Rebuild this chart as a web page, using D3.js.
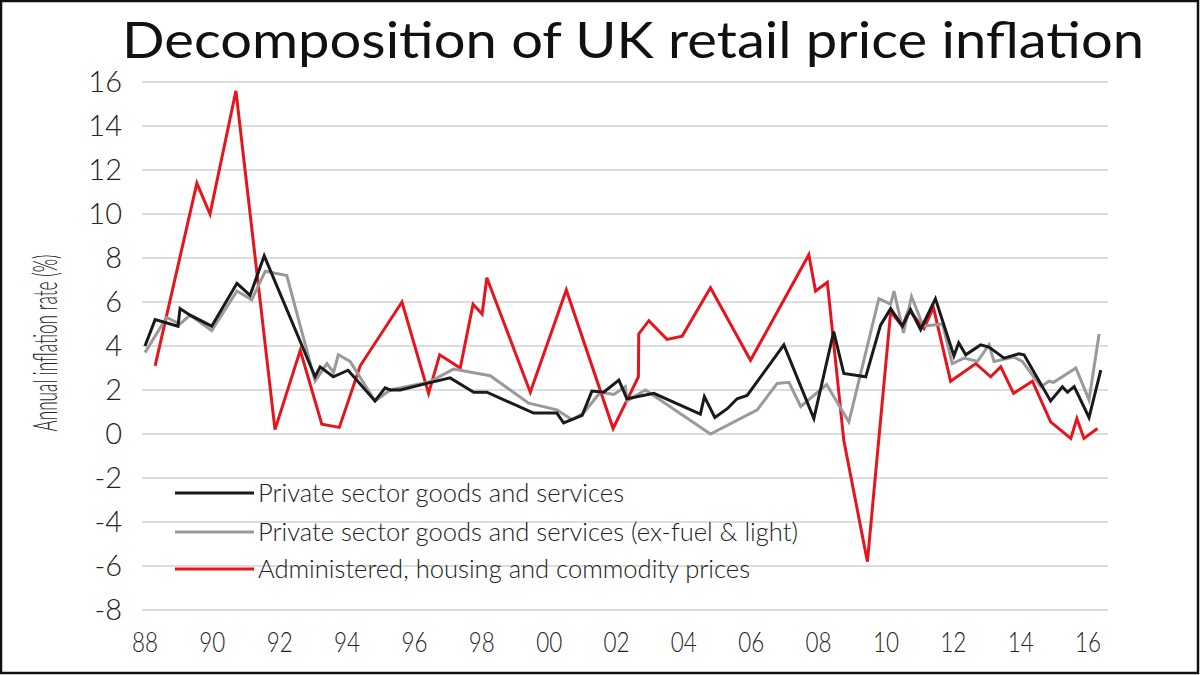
<!DOCTYPE html>
<html><head><meta charset="utf-8">
<script src="https://cdn.jsdelivr.net/npm/d3@7"></script>
<style>body{margin:0;background:#fff} svg{display:block}</style>
</head><body><svg id="c" width="1200" height="675"></svg>
<script>
const title = "Decomposition of UK retail price inflation";
const yTitle = "Annual inflation rate (%)";
const yTicks = [16,14,12,10,8,6,4,2,0,-2,-4,-6,-8];
const xTickYears = [1988,1990,1992,1994,1996,1998,2000,2002,2004,2006,2008,2010,2012,2014,2016];
const xTickLabels = ["88","90","92","94","96","98","00","02","04","06","08","10","12","14","16"];
const seriesNames = ["Private sector goods and services","Private sector goods and services (ex-fuel & light)","Administered, housing and commodity prices"];
const seriesColors = ["#1a1a1a","#9a9a9a","#e8141c"];

const privateSector = [[1988.0,4.0],[1988.3,5.2],[1988.98,4.9],[1989.04,5.7],[1989.34,5.4],[1989.98,4.9],[1990.73,6.85],[1991.12,6.3],[1991.54,8.1],[1993.05,2.6],[1993.2,3.05],[1993.59,2.6],[1994.03,2.9],[1994.83,1.5],[1995.13,2.1],[1995.28,2.0],[1995.58,2.0],[1996.37,2.3],[1997.06,2.55],[1997.76,1.9],[1998.15,1.9],[1999.54,0.95],[2000.23,0.95],[2000.43,0.5],[2000.98,0.85],[2001.27,1.95],[2001.62,1.9],[2002.07,2.45],[2002.31,1.6],[2003.11,1.85],[2004.49,0.9],[2004.61,1.7],[2004.92,0.75],[2005.29,1.15],[2005.58,1.6],[2005.88,1.75],[2006.97,4.05],[2007.86,0.7],[2008.45,4.65],[2008.75,2.75],[2009.4,2.6],[2009.84,4.95],[2010.14,5.7],[2010.49,4.9],[2010.73,5.65],[2011.03,4.75],[2011.47,6.15],[2012.02,3.55],[2012.16,4.15],[2012.37,3.6],[2012.81,4.05],[2013.06,3.95],[2013.51,3.45],[2013.95,3.65],[2014.1,3.6],[2014.89,1.5],[2015.24,2.15],[2015.39,1.9],[2015.59,2.15],[2016.03,0.75],[2016.38,2.9]];

const privateExFuel = [[1988.0,3.7],[1988.64,5.3],[1989.04,5.0],[1989.34,5.4],[1989.98,4.7],[1990.73,6.5],[1991.17,6.1],[1991.57,7.4],[1992.21,7.2],[1993.05,2.4],[1993.4,3.2],[1993.6,2.8],[1993.74,3.6],[1994.09,3.3],[1994.83,1.5],[1995.28,2.0],[1996.42,2.35],[1997.16,2.95],[1998.25,2.65],[1999.39,1.4],[2000.23,1.1],[2000.68,0.65],[2001.02,0.95],[2001.52,1.9],[2001.92,1.8],[2002.26,2.15],[2002.31,1.5],[2002.86,2.0],[2004.79,0.0],[2006.18,1.1],[2006.77,2.3],[2007.12,2.35],[2007.47,1.25],[2008.24,2.25],[2008.9,0.55],[2009.79,6.15],[2010.14,5.9],[2010.24,6.5],[2010.52,4.6],[2010.76,6.25],[2011.11,4.9],[2011.68,5.0],[2011.97,3.2],[2012.32,3.45],[2012.72,3.3],[2013.06,4.05],[2013.21,3.3],[2013.8,3.5],[2014.05,3.3],[2014.6,2.15],[2014.84,2.4],[2014.98,2.35],[2015.64,3.0],[2016.03,1.55],[2016.33,4.55]];

const administered = [[1988.3,3.1],[1989.54,11.4],[1989.93,10.0],[1990.7,15.6],[1991.86,0.2],[1992.61,3.8],[1993.25,0.45],[1993.77,0.3],[1994.39,3.1],[1995.63,6.0],[1996.42,1.85],[1996.75,3.6],[1997.36,3.0],[1997.74,5.9],[1998.01,5.45],[1998.15,7.1],[1999.44,1.9],[2000.51,6.55],[2001.9,0.25],[2002.65,2.6],[2002.66,4.55],[2002.96,5.15],[2003.5,4.3],[2003.95,4.45],[2004.79,6.65],[2005.98,3.35],[2007.71,8.15],[2007.91,6.5],[2008.26,6.9],[2008.75,-0.3],[2009.45,-5.8],[2010.14,5.55],[2010.49,4.9],[2010.68,5.65],[2011.13,4.8],[2011.41,5.75],[2011.92,2.4],[2012.67,3.2],[2013.11,2.6],[2013.41,3.05],[2013.79,1.85],[2014.35,2.4],[2014.89,0.55],[2015.49,-0.2],[2015.67,0.7],[2015.88,-0.2],[2016.28,0.25]];

const svg = d3.select("#c");
const font = "Lato, 'Open Sans', sans-serif";
const x = d3.scaleLinear().domain([1988, 2016]).range([145, 1088]);
const y = d3.scaleLinear().domain([-8, 16]).range([610, 82]);

svg.append("rect").attr("x",0).attr("y",0).attr("width",1200).attr("height",675).attr("fill","#fff");

// gridlines
svg.append("g").selectAll("line").data(yTicks).join("line")
  .attr("x1",142).attr("x2",1108)
  .attr("y1",d=>y(d)).attr("y2",d=>y(d))
  .attr("stroke","#d2d2d2").attr("stroke-width",1.6);

// y tick labels
svg.append("g").selectAll("text").data(yTicks).join("text")
  .attr("x",122).attr("y",d=>y(d)+10)
  .attr("text-anchor","end")
  .attr("font-family",font).attr("font-weight",300).attr("font-size",29)
  .attr("fill","#222")
  .text(d=>String(d));

// x tick labels
svg.append("g").selectAll("text").data(xTickYears).join("text")
  .attr("x",d=>x(d)).attr("y",652)
  .attr("text-anchor","middle")
  .attr("font-family",font).attr("font-weight",300).attr("font-size",28)
  .attr("fill","#222")
  .attr("textLength",26).attr("lengthAdjust","spacingAndGlyphs")
  .text((d,i)=>xTickLabels[i]);

// y title
svg.append("text")
  .attr("transform","translate(57,343) rotate(-90)")
  .attr("text-anchor","middle")
  .attr("font-family",font).attr("font-weight",300).attr("font-size",33)
  .attr("fill","#222")
  .attr("textLength",177).attr("lengthAdjust","spacingAndGlyphs")
  .text(yTitle);

// title
svg.append("text")
  .attr("x",633).attr("y",58)
  .attr("text-anchor","middle")
  .attr("font-family",font).attr("font-weight",400).attr("font-size",50)
  .attr("fill","#111")
  .attr("textLength",1022).attr("lengthAdjust","spacingAndGlyphs")
  .text(title);

// lines
const line = d3.line().x(d=>x(d[0])).y(d=>y(d[1]));
const allSeries = [administered, privateExFuel, privateSector];
const allColors = [seriesColors[2], seriesColors[1], seriesColors[0]];
svg.append("g").selectAll("path").data(allSeries).join("path")
  .attr("d",line).attr("fill","none")
  .attr("stroke",(d,i)=>allColors[i]).attr("stroke-width",3)
  .attr("stroke-linejoin","miter");

// legend
const legY = [493, 532, 569];
const legLen = [366, 540, 492];
const leg = svg.append("g");
seriesNames.forEach((n,i)=>{
  leg.append("line").attr("x1",175).attr("x2",254).attr("y1",legY[i]).attr("y2",legY[i])
    .attr("stroke",seriesColors[i]).attr("stroke-width",3);
  leg.append("text").attr("x",258).attr("y",legY[i]+9)
    .attr("font-family",font).attr("font-weight",300).attr("font-size",25)
    .attr("fill","#222")
    .attr("textLength",legLen[i]).attr("lengthAdjust","spacingAndGlyphs")
    .text(n);
});

// border
svg.append("rect").attr("x",1).attr("y",1).attr("width",1197).attr("height",672)
  .attr("fill","none").attr("stroke","#111").attr("stroke-width",2.5);
</script></body></html>
